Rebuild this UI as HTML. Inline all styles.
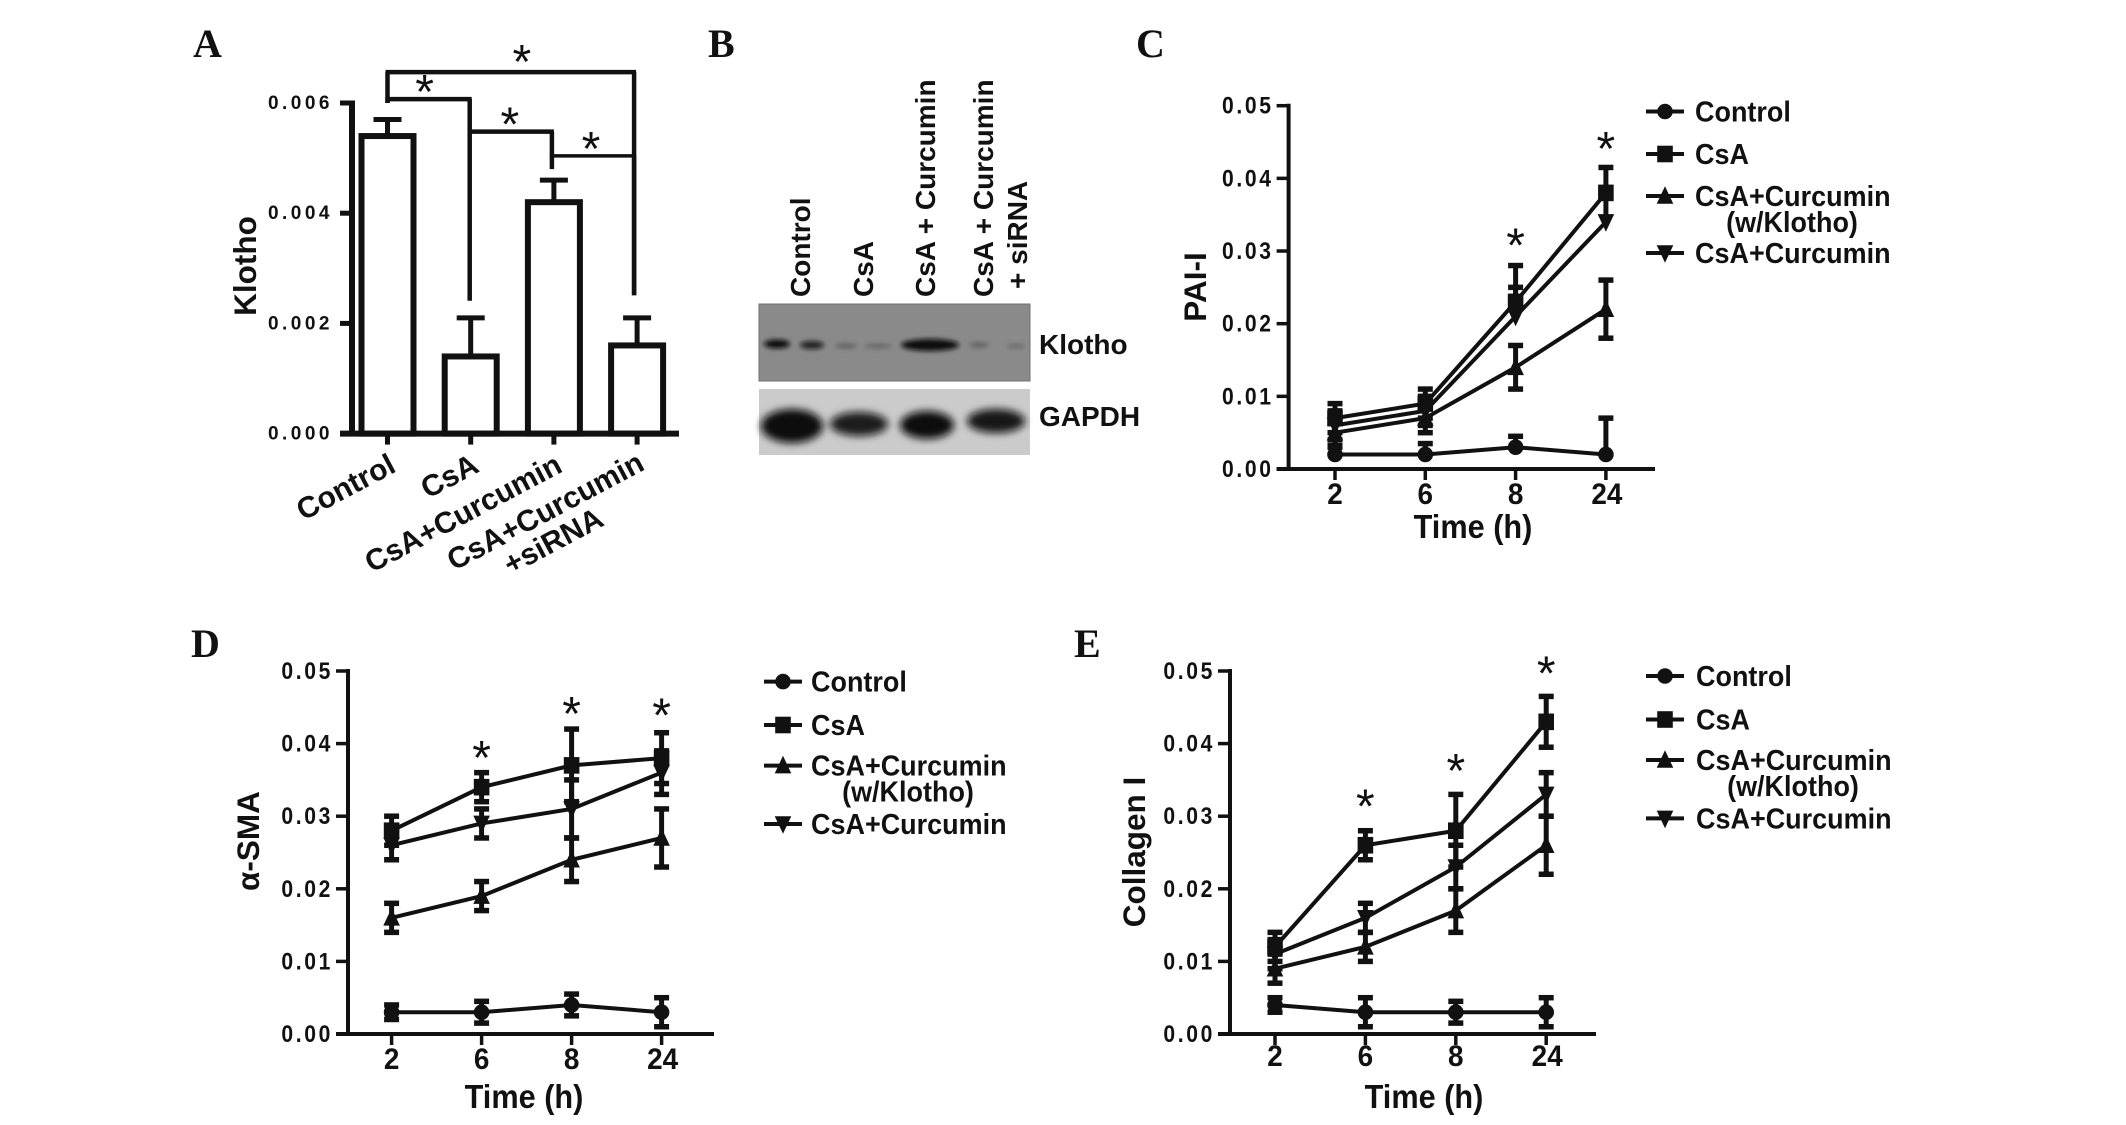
<!DOCTYPE html>
<html lang="en">
<head>
<meta charset="utf-8">
<title>Klotho, PAI-I, α-SMA and Collagen I figure</title>
<style>
  html, body { margin: 0; padding: 0; background: #fff; }
  svg { display: block; }
  text { font-family: "Liberation Sans", Arial, sans-serif; fill: #111; }
  .panel-letter { font-family: "Liberation Serif", serif; font-weight: 700; font-size: 40px; }
  .tick-a { font-weight: 700; font-size: 19px; letter-spacing: 3.5px; }
  .tick-y { font-weight: 700; font-size: 24px; letter-spacing: 3px; }
  .tick-x { font-weight: 700; font-size: 30px; }
  .axis-title { font-weight: 700; font-size: 33px; }
  .y-title { font-weight: 700; font-size: 31.5px; }
  .legend { font-weight: 700; font-size: 29px; }
  .cat-a { font-weight: 700; font-size: 30px; }
  .lane { font-weight: 700; font-size: 28px; }
  .star { font-weight: 400; font-size: 48px; }
  .blot-label { font-weight: 700; font-size: 28px; }
</style>
</head>
<body>
<svg id="figure" width="2126" height="1125" viewBox="0 0 2126 1125" xmlns="http://www.w3.org/2000/svg">
  <defs>
    <filter id="b3" x="-40%" y="-80%" width="180%" height="260%"><feGaussianBlur stdDeviation="2.5"/></filter>
    <filter id="b5" x="-40%" y="-80%" width="180%" height="260%"><feGaussianBlur stdDeviation="4"/></filter>
  </defs>

  <text class="panel-letter" x="193" y="57">A</text>
  <text class="panel-letter" x="708" y="57">B</text>
  <text class="panel-letter" x="1136" y="57">C</text>
  <text class="panel-letter" x="191" y="657">D</text>
  <text class="panel-letter" x="1074" y="657">E</text>

  <g id="panel-b">
    <text class="lane" transform="translate(810,297) rotate(-90)">Control</text>
    <text class="lane" transform="translate(873,297) rotate(-90)">CsA</text>
    <text class="lane" transform="translate(935,297) rotate(-90)">CsA + Curcumin</text>
    <text class="lane" transform="translate(993,297) rotate(-90)">CsA + Curcumin</text>
    <text class="lane" transform="translate(1027,289) rotate(-90)">+ siRNA</text>

    <g>
      <rect x="759" y="304" width="271" height="77" fill="#8a8a8a" stroke="#707070" stroke-width="1"/>
      <g filter="url(#b3)" fill="#111">
        <ellipse cx="777" cy="344" rx="13" ry="4.5"/>
        <ellipse cx="812" cy="345" rx="12" ry="4" opacity=".85"/>
        <ellipse cx="846" cy="346" rx="11" ry="2.5" opacity=".3"/>
        <ellipse cx="878" cy="346" rx="14" ry="2.5" opacity=".25"/>
        <ellipse cx="930" cy="345" rx="29" ry="6"/>
        <ellipse cx="979" cy="345" rx="10" ry="2.5" opacity=".3"/>
        <ellipse cx="1016" cy="346" rx="10" ry="2" opacity=".25"/>
      </g>
    </g>
    <g>
      <rect x="759" y="389" width="271" height="66" fill="#cbcbcb"/>
      <g filter="url(#b5)" fill="#0a0a0a">
        <ellipse cx="792" cy="426" rx="31" ry="17"/>
        <ellipse cx="859" cy="424" rx="29" ry="12" opacity=".92"/>
        <ellipse cx="927" cy="425" rx="27" ry="14"/>
        <ellipse cx="996" cy="421" rx="29" ry="12" opacity=".95"/>
      </g>
    </g>
    <text class="blot-label" x="1039" y="354">Klotho</text>
    <text class="blot-label" x="1039" y="426">GAPDH</text>
  </g>

  <g id="chart-layer"></g>
</svg>

<script>
// ---- Panel A data ----
const barCategories = ["Control", "CsA", "CsA+Curcumin", "CsA+Curcumin"];
const barValues = [0.0054, 0.0014, 0.0042, 0.0016];
const barErrors = [0.0003, 0.0007, 0.0004, 0.0005];
const barTicks = [0, 0.002, 0.004, 0.006];
const barTickLabels = ["0.000", "0.002", "0.004", "0.006"];
// significance brackets: from-category, to-category, level, and drop targets in value units
const bracketFrom = [0, 0, 1, 2];
const bracketTo = [3, 1, 2, 3];
const bracketLevel = [0.00656, 0.00607, 0.00548, 0.00504];
const bracketDropLeft = [0.006, 0.006, 0.00548, 0.00504];
const bracketDropRight = [0.00251, 0.00241, 0.0048, 0.00251];

// ---- Shared line-chart axis data ----
const timeLabels = ["2", "6", "8", "24"];
const lineTicks = [0, 0.01, 0.02, 0.03, 0.04, 0.05];
const lineTickLabels = ["0.00", "0.01", "0.02", "0.03", "0.04", "0.05"];
const seriesNames = ["Control", "CsA", "CsA+Curcumin", "CsA+Curcumin"];

// ---- Panel C (PAI-I) ----
const paiControl = [0.002, 0.002, 0.003, 0.002];
const paiControlErr = [0.0012, 0.0015, 0.0015, 0.005];
const paiControlErrLow = [0, 0, 0, 0];
const paiCsa = [0.007, 0.009, 0.023, 0.038];
const paiCsaErr = [0.002, 0.002, 0.005, 0.0035];
const paiCsaErrLow = [0.002, 0.002, 0, 0];
const paiKlotho = [0.005, 0.007, 0.014, 0.022];
const paiKlothoErr = [0.002, 0.002, 0.003, 0.004];
const paiKlothoErrLow = [0.002, 0.002, 0.003, 0.004];
const paiCurcumin = [0.006, 0.008, 0.021, 0.034];
const paiCurcuminErr = [0.002, 0.002, 0.004, 0.004];
const paiCurcuminErrLow = [0.002, 0.002, 0, 0];
const paiStarIndex = [2, 3];
const paiStarLevel = [0.0313, 0.0446];

// ---- Panel D (alpha-SMA) ----
const smaControl = [0.003, 0.003, 0.004, 0.003];
const smaControlErr = [0.001, 0.0015, 0.0015, 0.002];
const smaCsa = [0.028, 0.034, 0.037, 0.038];
const smaCsaErr = [0.002, 0.002, 0.005, 0.0035];
const smaKlotho = [0.016, 0.019, 0.024, 0.027];
const smaKlothoErr = [0.002, 0.002, 0.003, 0.004];
const smaCurcumin = [0.026, 0.029, 0.031, 0.036];
const smaCurcuminErr = [0.002, 0.002, 0.004, 0.003];
const smaStarIndex = [1, 2, 3];
const smaStarLevel = [0.0386, 0.0446, 0.0444];

// ---- Panel E (Collagen I) ----
const colControl = [0.004, 0.003, 0.003, 0.003];
const colControlErr = [0.001, 0.002, 0.0015, 0.002];
const colCsa = [0.012, 0.026, 0.028, 0.043];
const colCsaErr = [0.002, 0.002, 0.005, 0.0035];
const colKlotho = [0.009, 0.012, 0.017, 0.026];
const colKlothoErr = [0.002, 0.002, 0.003, 0.004];
const colCurcumin = [0.011, 0.016, 0.023, 0.033];
const colCurcuminErr = [0.002, 0.002, 0.003, 0.003];
const colStarIndex = [1, 2, 3];
const colStarLevel = [0.0319, 0.0368, 0.0502];

const NS = "http://www.w3.org/2000/svg";
const layer = document.getElementById("chart-layer");

function mk(tag, attrs, parent) {
  const e = document.createElementNS(NS, tag);
  for (const k in attrs) e.setAttribute(k, attrs[k]);
  (parent || layer).appendChild(e);
  return e;
}
function seg(x1, y1, x2, y2, w, parent) {
  return mk("line", { x1, y1, x2, y2, stroke: "#111", "stroke-width": w }, parent);
}
function label(str, x, y, cls, anchor, parent, rot) {
  const t = mk("text", { x, y, class: cls, "text-anchor": anchor || "start" }, parent);
  if (rot !== undefined) t.setAttribute("transform", "rotate(" + rot + " " + x + " " + y + ")");
  t.textContent = str;
  return t;
}
// horizontally condensed text, matching the squeezed panels of the source figure
function narrow(str, x, y, cls, anchor, parent, c) {
  const t = mk("text", { x: 0, y: 0, class: cls, "text-anchor": anchor || "start", transform: "translate(" + x + " " + y + ") scale(" + c + " 1)" }, parent);
  t.textContent = str;
  return t;
}
function starAt(x, y, parent) {
  // the asterisk glyph sits high in the em box; y is the visual centre
  return label("*", x, y + 20, "star", "middle", parent);
}

/* ---------- Panel A bar chart ---------- */
(function () {
  const g = mk("g", {});
  
  
  const xPos = i => 387.5 + i * 83.2;
  const bracketX = i => 387.5 + i * 82.2;
  const yPos = v => 433.6 - (v / 0.006) * 330.6;

  barValues.forEach((v, i) => {
    const bw = 52;
    const eb = seg(xPos(i), yPos(v), xPos(i), yPos(v + barErrors[i]), 5, g);
    
    
    const cap = seg(xPos(i) - 14, yPos(v + barErrors[i]), xPos(i) + 14, yPos(v + barErrors[i]), 5, g);
    
    
    const r = mk("rect", { x: xPos(i) - bw / 2, y: yPos(v), width: bw, height: yPos(0) - yPos(v), fill: "#fff", stroke: "#111", "stroke-width": 6 }, g);
    
    
    const tk = seg(xPos(i), yPos(0), xPos(i), yPos(0) + 11, 5, g);
    
    
  });

  const yAxis = seg(352, yPos(0.006) - 2.5, 352, yPos(0) + 2.5, 6, g);
  
  
  const xAxis = seg(340, yPos(0), 679, yPos(0), 6, g);
  
  

  barTicks.forEach((t, i) => {
    const tk = seg(340, yPos(t), 352, yPos(t), 5, g);
    
    
    const tl = label(barTickLabels[i], 333, yPos(t) + 6, "tick-a", "end", g);
    
    
  });

  const yt = label("Klotho", 256, 266, "y-title", "middle", g, -90);
  
  

  barCategories.forEach((c, i) => {
    const cl = label(c, xPos(i) + (i === 3 ? 9 : 10), i === 3 ? 469 : 471, "cat-a", "end", g, -28);
    
    
  });
  const extra = label("+siRNA", 558, 550, "cat-a", "middle", g, -28);
  
  

  bracketFrom.forEach((from, i) => {
    const x1 = bracketX(from), x2 = bracketX(bracketTo[i]), yl = yPos(bracketLevel[i]);
    const w = i === 3 ? 3.5 : 4.5;
    const top = seg(x1 - 2, yl, x2 + 2, yl, w, g);
    
    
    const dl = seg(x1, yl, x1, yPos(bracketDropLeft[i]), 4.5, g);
    
    
    const dr = seg(x2, yl, x2, yPos(bracketDropRight[i]), 4.5, g);
    
    
    const s = starAt((x1 + x2) / 2 + (i === 0 ? 11 : i === 1 ? -4 : i === 2 ? -1 : -2), yl - (i === 0 ? 14 : 11), g);
    
    
  });
})();

/* ---------- Panels C, D, E line charts ---------- */
function drawMarker(kind, x, y, parent) {
  const s = 7.8;
  if (kind === 0) return mk("circle", { cx: x, cy: y, r: s, fill: "#111" }, parent);
  if (kind === 1) return mk("rect", { x: x - s, y: y - s - 0.5, width: 2 * s, height: 2 * s + 1, fill: "#111" }, parent);
  if (kind === 2) return mk("polygon", { points: [x, y - s - 2, x + s + 0.5, y + s, x - s - 0.5, y + s].join(" "), fill: "#111" }, parent);
  return mk("polygon", { points: [x, y + s + 2, x + s + 0.5, y - s, x - s - 0.5, y - s].join(" "), fill: "#111" }, parent);
}

function lineChart(cfg, seriesValues, seriesErrors, seriesErrorsLow, starIndex, starLevel) {
  const g = mk("g", {});
  
  
  const xPos = i => cfg.x0 + i * cfg.dx;
  const yPos = v => cfg.y0 - (v / 0.05) * (cfg.y0 - cfg.yTop);

  const yAxis = seg(cfg.axisX, cfg.yTop - 2, cfg.axisX, cfg.y0 + 2, 4, g);
  
  
  const xAxis = seg(cfg.axisX - 12, cfg.y0, cfg.axisEnd, cfg.y0, 4, g);
  
  

  lineTicks.forEach((t, i) => {
    const tk = seg(cfg.axisX - 12, yPos(t), cfg.axisX, yPos(t), 3.5, g);
    
    
    const tl = narrow(lineTickLabels[i], cfg.axisX - 15, yPos(t) + 8, "tick-y", "end", g, 0.88);
    
    
  });
  timeLabels.forEach((t, i) => {
    const tk = seg(xPos(i), cfg.y0, xPos(i), cfg.y0 + 11, 3.5, g);
    
    
    const tl = narrow(t, xPos(i) + (i === 3 ? 1 : 0), cfg.tickY, "tick-x", "middle", g, 0.93);
    
    
  });

  const xt = narrow("Time (h)", cfg.xTitleX, cfg.xTitleY, "axis-title", "middle", g, 0.93);
  
  
  const yt = label(cfg.title, cfg.yTitleX, cfg.yTitleY, "y-title", "middle", g, -90);
  
  

  seriesValues.forEach((vals, s) => {
    const sg = mk("g", {}, g);
    
    
    const pts = vals.map((v, i) => xPos(i) + "," + yPos(v)).join(" ");
    const pl = mk("polyline", { points: pts, fill: "none", stroke: "#111", "stroke-width": 4 }, sg);
    
    
    vals.forEach((v, i) => {
      const up = seriesErrors[s][i];
      const down = seriesErrorsLow[s][i];
      const hi = v + up;
      const lo = Math.max(v - down, 0);
      const ev = seg(xPos(i), yPos(hi), xPos(i), yPos(lo), 5, sg);
      
      
      const c1 = seg(xPos(i) - 7.5, yPos(hi), xPos(i) + 7.5, yPos(hi), 5.5, sg);
      
      
      if (down > 0 && v - down > 0) {
        const c2 = seg(xPos(i) - 7.5, yPos(lo), xPos(i) + 7.5, yPos(lo), 5.5, sg);
        
        
      }
      const m = drawMarker(s, xPos(i), yPos(v), sg);
      
      
    });
  });

  starIndex.forEach((idx, i) => {
    const st = starAt(xPos(idx), yPos(starLevel[i]), g);
    
    
  });

  // legend
  const lg = mk("g", {}, g);
  
  
  seriesNames.forEach((n, s) => {
    const ry = cfg.legendRows[s];
    const ll = seg(cfg.legendX - 19, ry, cfg.legendX + 19, ry, 4, lg);
    
    
    const lm = drawMarker(s, cfg.legendX, ry, lg);
    
    
    const lt = narrow(n, cfg.legendTextX, ry + 10, "legend", "start", lg, 0.93);
    
    
  });
  const sub = narrow("(w/Klotho)", cfg.legendTextX + 97, cfg.legendRows[2] + 36, "legend", "middle", lg, 0.93);
  
  
}

lineChart(
  { name: "pai-1", title: "PAI-I", axisX: 1288.6, axisEnd: 1655, y0: 469, yTop: 105.7, x0: 1335, dx: 90.3, tickY: 504, xTitleX: 1473, xTitleY: 538, yTitleX: 1206, yTitleY: 287, legendX: 1665, legendTextX: 1695, legendRows: [111.5, 154, 196, 253] },
  [paiControl, paiCsa, paiKlotho, paiCurcumin],
  [paiControlErr, paiCsaErr, paiKlothoErr, paiCurcuminErr],
  [paiControlErrLow, paiCsaErrLow, paiKlothoErrLow, paiCurcuminErrLow],
  paiStarIndex, paiStarLevel
);
lineChart(
  { name: "alpha-sma", title: "α-SMA", axisX: 348, axisEnd: 714, y0: 1034, yTop: 671, x0: 391.6, dx: 90, tickY: 1069, xTitleX: 524, xTitleY: 1108, yTitleX: 259, yTitleY: 841, legendX: 783, legendTextX: 811, legendRows: [681.6, 725, 765.6, 824] },
  [smaControl, smaCsa, smaKlotho, smaCurcumin],
  [smaControlErr, smaCsaErr, smaKlothoErr, smaCurcuminErr],
  [smaControlErr, smaCsaErr, smaKlothoErr, smaCurcuminErr],
  smaStarIndex, smaStarLevel
);
lineChart(
  { name: "collagen-1", title: "Collagen I", axisX: 1230, axisEnd: 1596, y0: 1034, yTop: 671, x0: 1275, dx: 90.4, tickY: 1066, xTitleX: 1424, xTitleY: 1108, yTitleX: 1145, yTitleY: 852, legendX: 1665, legendTextX: 1696, legendRows: [676, 719.5, 760, 818.4] },
  [colControl, colCsa, colKlotho, colCurcumin],
  [colControlErr, colCsaErr, colKlothoErr, colCurcuminErr],
  [colControlErr, colCsaErr, colKlothoErr, colCurcuminErr],
  colStarIndex, colStarLevel
);
</script>
</body>
</html>
